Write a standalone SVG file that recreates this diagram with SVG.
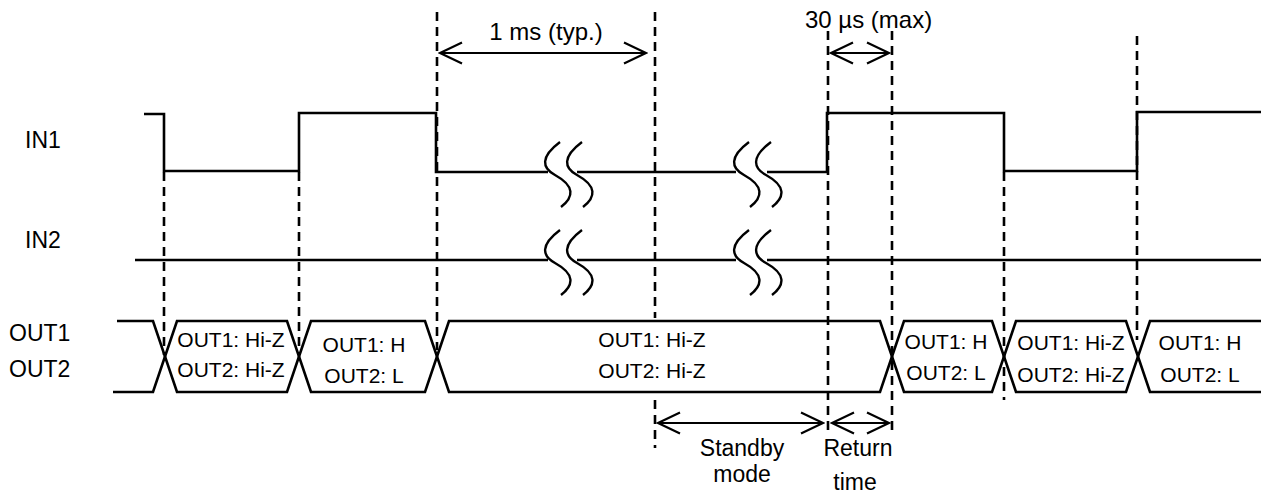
<svg xmlns="http://www.w3.org/2000/svg" width="1261" height="494" viewBox="0 0 1261 494">
<style>
.sig{fill:none;stroke:#000;stroke-width:2.6;stroke-linejoin:miter}
.brk{fill:none;stroke:#000;stroke-width:2.4}
.dash{fill:none;stroke:#000;stroke-width:2.6;stroke-dasharray:9 6}
.arr{fill:none;stroke:#000;stroke-width:2.2;marker-start:url(#ah);marker-end:url(#ah)}
text{font-family:"Liberation Sans",Arial,sans-serif;fill:#000}
.lbl{font-size:23px}
.top{font-size:24px}
.cell{font-size:21px;text-anchor:middle}
.mid{text-anchor:middle}
</style>
<defs>
<marker id="ah" markerUnits="userSpaceOnUse" markerWidth="26" markerHeight="26" viewBox="0 0 26 26" refX="24" refY="13" orient="auto-start-reverse">
<path d="M2,2.5 L24,13 L2,23.5" fill="none" stroke="#000" stroke-width="2.2"/>
</marker>
</defs>
<rect width="1261" height="494" fill="#fff"/>

<g id="labels">
<text class="lbl" x="25" y="148">IN1</text>
<text class="lbl" x="25" y="248">IN2</text>
<text class="lbl" x="9" y="341">OUT1</text>
<text class="lbl" x="9" y="377">OUT2</text>
</g>

<g id="IN1">
<path class="sig" d="M144,114 H164 V171 H299 V113 H436 V172 H548 M577,172 H736 M767,172 H827 V113 H1004 V171 H1137 V112 H1261"/>
</g>
<g id="IN2">
<path class="sig" d="M135,260 H548 M577,260 H736 M767,260 H1261"/>
</g>

<g id="breaks">
<path class="brk" d="M560,142 C540,157 542,168 555,175 C575,186 574,197 561,207"/>
<path class="brk" d="M582,142 C562,157 564,168 577,175 C597,186 596,197 583,207"/>
<path class="brk" d="M749,142 C729,157 731,168 744,175 C764,186 763,197 750,207"/>
<path class="brk" d="M771,142 C751,157 753,168 766,175 C786,186 785,197 772,207"/>
<path class="brk" d="M560,230 C540,245 542,256 555,263 C575,274 574,285 561,295"/>
<path class="brk" d="M582,230 C562,245 564,256 577,263 C597,274 596,285 583,295"/>
<path class="brk" d="M749,230 C729,245 731,256 744,263 C764,274 763,285 750,295"/>
<path class="brk" d="M771,230 C751,245 753,256 766,263 C786,274 785,285 772,295"/>
</g>

<g id="bus">
<path class="sig" d="M117,321 H153 L165,356.5 L153,392 H113"/>
<g id="cell1"><path class="sig" d="M165,356.5 L177,321 H287 L299,356.5 L287,392 H177 Z"/>
<text class="cell" x="231" y="347">OUT1: Hi-Z</text><text class="cell" x="231" y="377">OUT2: Hi-Z</text></g>
<g id="cell2"><path class="sig" d="M299,356.5 L311,321 H425 L437,356.5 L425,392 H311 Z"/>
<text class="cell" x="364" y="352">OUT1: H</text><text class="cell" x="364" y="383">OUT2: L</text></g>
<g id="cell3"><path class="sig" d="M437,356.5 L449,321 H880 L892,356.5 L880,392 H449 Z"/>
<text class="cell" x="652" y="347">OUT1: Hi-Z</text><text class="cell" x="652" y="378">OUT2: Hi-Z</text></g>
<g id="cell4"><path class="sig" d="M892,356.5 L904,321 H992 L1004,356.5 L992,392 H904 Z"/>
<text class="cell" x="946" y="349">OUT1: H</text><text class="cell" x="946" y="380">OUT2: L</text></g>
<g id="cell5"><path class="sig" d="M1004,356.5 L1016,321 H1126 L1138,356.5 L1126,392 H1016 Z"/>
<text class="cell" x="1071" y="350">OUT1: Hi-Z</text><text class="cell" x="1071" y="382">OUT2: Hi-Z</text></g>
<g id="cell6"><path class="sig" d="M1261,321 H1150 L1138,356.5 L1150,392 H1261"/>
<text class="cell" x="1200" y="350">OUT1: H</text><text class="cell" x="1200" y="382">OUT2: L</text></g>
</g>

<g id="connectors">
<line class="dash" x1="164" y1="172" x2="164" y2="355"/>
<line class="dash" x1="299" y1="172" x2="299" y2="355"/>
<line class="dash" x1="437" y1="12" x2="437" y2="350"/>
<line class="dash" x1="655" y1="12" x2="655" y2="318"/>
<line class="dash" x1="655" y1="400" x2="655" y2="448"/>
<line class="dash" x1="828" y1="31" x2="828" y2="436"/>
<line class="dash" x1="892" y1="31" x2="892" y2="436"/>
<line class="dash" x1="1004" y1="172" x2="1004" y2="400"/>
<line class="dash" x1="1137" y1="36" x2="1137" y2="340"/>
<line class="arr" x1="440" y1="53" x2="646" y2="53"/>
<line class="arr" x1="831" y1="53" x2="889" y2="53"/>
<line class="arr" x1="658" y1="423" x2="823" y2="423"/>
<line class="arr" x1="832" y1="423" x2="889" y2="423"/>
</g>

<g id="annotations">
<text class="top mid" x="546" y="40">1 ms (typ.)</text>
<text class="top" x="805" y="28">30 µs (max)</text>
<text class="lbl mid" x="742" y="456">Standby</text>
<text class="lbl mid" x="742" y="482">mode</text>
<text class="lbl mid" x="858" y="456">Return</text>
<text class="lbl mid" x="855" y="490">time</text>
</g>
</svg>
